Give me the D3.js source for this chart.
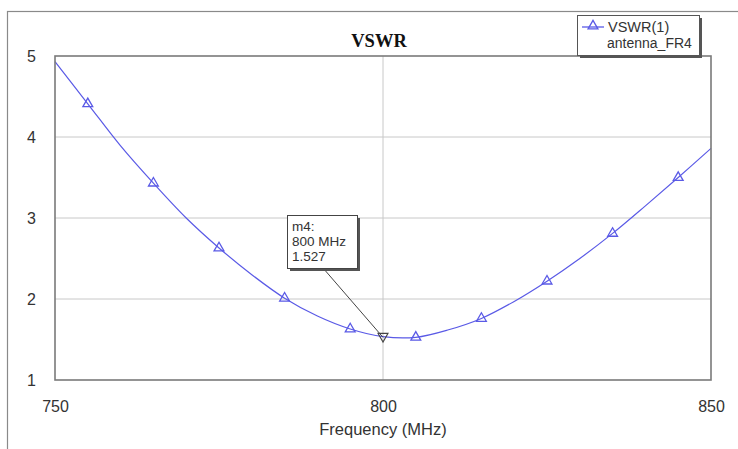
<!DOCTYPE html>
<html><head><meta charset="utf-8">
<script src="https://cdn.jsdelivr.net/npm/d3@7/dist/d3.min.js"></script>
<style>html,body{margin:0;padding:0;background:#fff;}svg{display:block;}</style>
</head><body>
<script>
const freqs = [750,755,760,765,770,775,780,785,790,795,800,805,810,815,820,825,830,835,840,845,850];
const vswr  = [4.93,4.41,3.89,3.43,3.00,2.63,2.30,2.01,1.79,1.63,1.535,1.527,1.62,1.76,1.97,2.22,2.50,2.81,3.15,3.50,3.86];
const markerFreqs = [755,765,775,785,795,805,815,825,835,845];
const markerVals  = [4.41,3.43,2.63,2.01,1.63,1.527,1.76,2.22,2.81,3.50];
const xTicks = [750,800,850];
const yTicks = [1,2,3,4,5];
const mFreq = 800, mVal = 1.527;
const mLabels = ["m4:","800 MHz","1.527"];
const legendLabels = ["VSWR(1)","antenna_FR4"];

const W=738,H=449;
const svg=d3.select("body").append("svg").attr("width",W).attr("height",H);
const L=55,R=711,T=56,B=380;
const x=d3.scaleLinear().domain([750,850]).range([L,R]);
const y=d3.scaleLinear().domain([1,5]).range([B,T]);
const sans="Liberation Sans, Arial, sans-serif";

// outer frame
svg.append("rect").attr("x",7.5).attr("y",11.5).attr("width",W).attr("height",H)
  .attr("fill","none").attr("stroke","#8a8a8a").attr("stroke-width",1.2);

// grid
const g=svg.append("g");
g.selectAll(".hg").data(yTicks.filter(d=>d>1&&d<5)).enter().append("line")
  .attr("x1",L).attr("x2",R).attr("y1",d=>y(d)).attr("y2",d=>y(d))
  .attr("stroke","#c8c8c8").attr("stroke-width",1);
g.selectAll(".vg").data(xTicks.filter(d=>d>750&&d<850)).enter().append("line")
  .attr("y1",T).attr("y2",B).attr("x1",d=>x(d)).attr("x2",d=>x(d))
  .attr("stroke","#c8c8c8").attr("stroke-width",1);

// axes labels using d3 axes
const xa=svg.append("g").attr("transform",`translate(0,${B})`)
  .call(d3.axisBottom(x).tickValues(xTicks).tickSize(0).tickPadding(21).tickFormat(d3.format("d")));
xa.select(".domain").remove();
xa.selectAll("text").attr("font-family",sans).attr("font-size",16).attr("fill","#333");
const ya=svg.append("g").attr("transform",`translate(${L},0)`)
  .call(d3.axisLeft(y).tickValues(yTicks).tickSize(0).tickPadding(19).tickFormat(d3.format("d")));
ya.select(".domain").remove();
ya.selectAll("text").attr("font-family",sans).attr("font-size",16).attr("fill","#333");

svg.append("text").attr("x",383).attr("y",435).attr("text-anchor","middle")
  .attr("font-family",sans).attr("font-size",16.5).attr("fill","#333")
  .text("Frequency (MHz)");
svg.append("text").attr("x",379).attr("y",47).attr("text-anchor","middle")
  .attr("font-family","Liberation Serif, Times New Roman, serif").attr("font-weight","bold").attr("font-size",18.5).attr("fill","#111")
  .text("VSWR");

// curve
const col="#5a5ae6";
svg.append("path").datum(freqs.map((f,i)=>[f,vswr[i]]))
  .attr("d",d3.line().x(d=>x(d[0])).y(d=>y(d[1])).curve(d3.curveCatmullRom.alpha(0.5)))
  .attr("fill","none").attr("stroke",col).attr("stroke-width",1.2);

const tri=d3.symbol().type(d3.symbolTriangle).size(42);
svg.selectAll(".mk").data(markerFreqs.map((f,i)=>[f,markerVals[i]])).enter().append("path")
  .attr("d",tri).attr("transform",d=>`translate(${x(d[0])},${y(d[1])})`)
  .attr("fill","none").attr("stroke",col).attr("stroke-width",1.3);

// plot frame
svg.append("rect").attr("x",L).attr("y",T).attr("width",R-L).attr("height",B-T)
  .attr("fill","none").attr("stroke","#7a7a7a").attr("stroke-width",1.6);

// marker m4
const mx=x(mFreq), my=y(mVal);
const bx=287,by=215,bw=70,bh=53;
svg.append("line").attr("x1",323).attr("y1",by+bh).attr("x2",mx).attr("y2",my)
  .attr("stroke","#444").attr("stroke-width",1);
svg.append("path").attr("d",tri).attr("transform",`translate(${mx},${my-1}) rotate(180)`)
  .attr("fill","none").attr("stroke","#444").attr("stroke-width",1.2);
svg.append("rect").attr("x",bx+3).attr("y",by+3).attr("width",bw).attr("height",bh).attr("fill","#555");
svg.append("rect").attr("x",bx+0.5).attr("y",by+0.5).attr("width",bw).attr("height",bh)
  .attr("fill","#fff").attr("stroke","#444").attr("stroke-width",1);
svg.selectAll(".ml").data(mLabels).enter().append("text")
  .attr("x",bx+5).attr("y",(d,i)=>by+16+i*15)
  .attr("font-family",sans).attr("font-size",13.5).attr("fill","#333")
  .text(d=>d);

// legend
const lx=577,ly=15,lw=122,lh=40;
svg.append("rect").attr("x",lx+3).attr("y",ly+3).attr("width",lw).attr("height",lh).attr("fill","#555");
svg.append("rect").attr("x",lx+0.5).attr("y",ly+0.5).attr("width",lw).attr("height",lh)
  .attr("fill","#fff").attr("stroke","#555").attr("stroke-width",1);
svg.append("line").attr("x1",lx+5).attr("x2",lx+27).attr("y1",ly+12).attr("y2",ly+12)
  .attr("stroke",col).attr("stroke-width",1.3);
svg.append("path").attr("d",tri).attr("transform",`translate(${lx+16},${ly+11})`)
  .attr("fill","none").attr("stroke",col).attr("stroke-width",1.3);
svg.append("text").attr("x",lx+31).attr("y",ly+17).text(legendLabels[0])
  .attr("font-family",sans).attr("font-size",14.5).attr("fill","#333");
svg.append("text").attr("x",lx+30).attr("y",ly+33).text(legendLabels[1])
  .attr("font-family",sans).attr("font-size",14).attr("fill","#333");
</script>
</body></html>
